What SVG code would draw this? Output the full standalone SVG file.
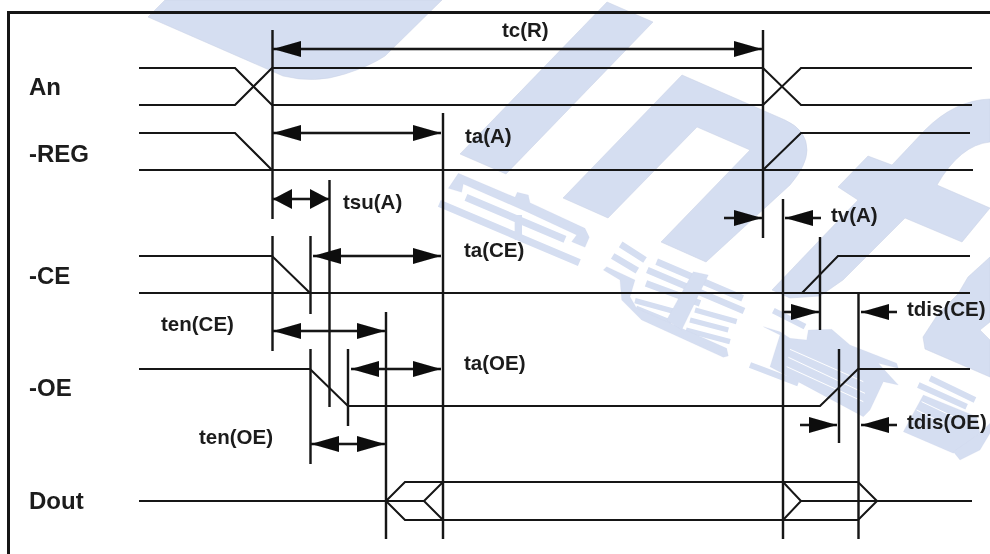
<svg xmlns="http://www.w3.org/2000/svg" width="990" height="554" viewBox="0 0 990 554">
<style>
.wm{fill:#d5def1;stroke:#c8d0e4;stroke-width:.5}
.wb{fill:none;stroke:#d5def1;stroke-linecap:butt}
.w{fill:none;stroke:#141414;stroke-width:2;stroke-linejoin:miter}
.g{fill:none;stroke:#141414;stroke-width:2.4}
.a{fill:none;stroke:#141414;stroke-width:2.4;marker-end:url(#h)}
.b{fill:none;stroke:#141414;stroke-width:2.4;marker-start:url(#h);marker-end:url(#h)}
.s{fill:none;stroke:#141414;stroke-width:2.4;marker-start:url(#k);marker-end:url(#k)}
text{font-family:"Liberation Sans",Arial,sans-serif;font-weight:700;fill:#1a1a1a}
.l{font-size:24px}
.t{font-size:20.5px}
</style>
<defs>
<filter id="soft" x="-2%" y="-2%" width="104%" height="104%"><feGaussianBlur stdDeviation="0.55"/></filter>
<marker id="h" markerUnits="userSpaceOnUse" markerWidth="28" markerHeight="18" viewBox="0 0 28 18" refX="28" refY="9" orient="auto-start-reverse"><path d="M0 1L28 9L0 17Z" fill="#0c0c0c"/></marker>
<marker id="k" markerUnits="userSpaceOnUse" markerWidth="19" markerHeight="20" viewBox="0 0 19 20" refX="19" refY="10" orient="auto-start-reverse"><path d="M0 0L19 10L0 20Z" fill="#0c0c0c"/></marker>
</defs>
<rect width="990" height="554" fill="#fff"/>
<g id="watermark">
<path class="wm" d="M165 0L148 17L283 76Q315 84 345 74Q370 66 385 56L442 0Z"/>
<path class="wm" d="M607 2L653 22L506 174L460 154Z"/>
<path class="wm" d="M682 75L785 120Q807 130 807 150Q807 165 790 185L706 262L661 242L750 150L697 127L608 218L563 198Z"/>
<path class="wm" d="M868 156L892 165L925 130Q955 100 990 99L990 142Q960 145 937 185L990 208L962 242L905 218L843 280L820 296L790 298L772 290L858 200L838 187Z"/>
<path class="wm" d="M990 257L968 277L958 294L938 314L923 337L925 349L990 377L990 340L980 330L990 322Z"/>
<g transform="translate(430 160) scale(.3333)">
<path class="wm" d="M55 85L85 40L255 112L262 97L295 105L300 128L465 205L478 232L465 262L425 245L440 225L290 155L100 72L95 97Z"/>
<path class="wb" stroke-width="22" d="M108 112L405 238M28 130L448 308M265 165L265 240"/>
</g>
<g transform="translate(600 230) scale(.3333)">
<path class="wb" stroke-width="20" d="M62 43L135 90M38 78L112 122M170 95L428 205M142 120L432 243M138 160L300 220"/>
<path class="wb" stroke-width="16" d="M285 240L410 275M270 270L385 300M258 300L390 335M105 212L225 245M108 235L215 278"/>
<path class="wm" d="M10 120L20 110L105 150L90 200L110 235L380 355L385 378L370 382L125 270L65 210L60 150Z"/>
<path class="wm" d="M280 125L325 135L245 300L200 270Z"/>
</g>
<g transform="translate(750 260) scale(.3333)">
<path class="wm" d="M40 200L90 215L120 235L170 240L175 210L245 208L300 255L440 310L445 325L385 310L445 375L400 365L360 450L340 470L60 320L90 225Z"/>
<path class="wb" stroke-width="18" d="M70 152L165 200M0 315L145 370M540 355L675 420M505 375L650 440"/>
<path class="wm" d="M520 405L680 470L690 520L610 580L460 515Z"/>
<path class="wm" d="M610 575L630 600L690 570L720 520L720 490L690 520Z"/>
<path fill="none" stroke="#fff" stroke-width="3" d="M120 268L340 365M115 292L345 400M110 320L340 425M515 425L610 470M500 450L590 495"/>
</g>
</g>
<g filter="url(#soft)">
<rect id="frame" x="8.5" y="12.5" width="990" height="560" fill="none" stroke="#141414" stroke-width="3"/>
<g id="signal-an">
<text class="l" x="29" y="95">An</text>
<path class="w" d="M139 68H235L272 105H763L801 68H972"/>
<path class="w" d="M139 105H235L272 68H763L801 105H972"/>
</g>
<g id="signal-reg">
<text class="l" x="29" y="162">-REG</text>
<path class="w" d="M139 133H235L272 170"/>
<path class="w" d="M139 170H973"/>
<path class="w" d="M763 170L801 133H970"/>
</g>
<g id="signal-ce">
<text class="l" x="29" y="284">-CE</text>
<path class="w" d="M139 256H272L310 293"/>
<path class="w" d="M139 293H970"/>
<path class="w" d="M802 293L838 256H970"/>
</g>
<g id="signal-oe">
<text class="l" x="29" y="396">-OE</text>
<path class="w" d="M139 369H310L348 406H820L858 369H970"/>
</g>
<g id="signal-dout">
<text class="l" x="29" y="509">Dout</text>
<path class="w" d="M139 501H386L405 482H858L877 501H972"/>
<path class="w" d="M386 501L405 520H858L877 501"/>
<path class="w" d="M386 501H424L443 482M424 501L443 520"/>
<path class="w" d="M783 482L801 501L783 520M801 501H877"/>
</g>
<g id="connectors">
<path class="g" d="M272.500 30V219M763 30V238M443 113V539M329.500 180V407M272.500 236V351M310.500 236V314M386 312V539M310.500 349V464M348 349V426M783 199V539M858.500 293V539M820 237V330M839 349V443"/>
<path class="b" d="M273 49H762"/>
<path class="b" d="M273 133H441"/>
<path class="s" d="M273 199H329"/>
<path class="b" d="M313 256H441"/>
<path class="b" d="M273 331H385"/>
<path class="b" d="M351 369H441"/>
<path class="b" d="M311 444H385"/>
<path class="a" d="M724 218H762"/>
<path class="a" d="M821 218H785"/>
<path class="a" d="M783 312H819"/>
<path class="a" d="M897 312H861"/>
<path class="a" d="M800 425H837"/>
<path class="a" d="M897 425H861"/>
</g>
<g id="labels">
<text class="t" x="502" y="37">tc(R)</text>
<text class="t" x="465" y="143">ta(A)</text>
<text class="t" x="343" y="209">tsu(A)</text>
<text class="t" x="464" y="257">ta(CE)</text>
<text class="t" x="161" y="331">ten(CE)</text>
<text class="t" x="464" y="370">ta(OE)</text>
<text class="t" x="199" y="444">ten(OE)</text>
<text class="t" x="831" y="222">tv(A)</text>
<text class="t" x="907" y="316">tdis(CE)</text>
<text class="t" x="907" y="429">tdis(OE)</text>
</g>
</g>
</svg>
